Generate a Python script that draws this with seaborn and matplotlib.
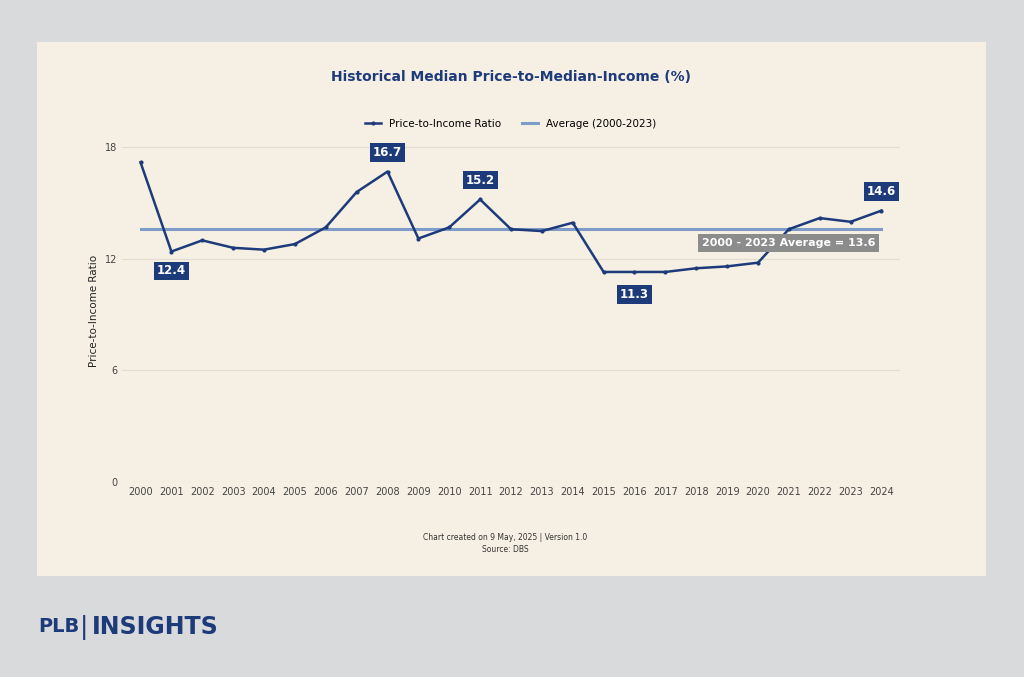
import matplotlib
matplotlib.use("Agg")
import matplotlib.pyplot as plt
import seaborn as sns
import pandas as pd
from matplotlib.patches import Rectangle

years = list(range(2000, 2025))
ratio = [17.2, 12.4, 13.0, 12.6, 12.5, 12.8, 13.7, 15.6, 16.7, 13.1, 13.7, 15.2,
         13.6, 13.5, 13.95, 11.3, 11.3, 11.3, 11.5, 11.6, 11.8, 13.6, 14.2, 14.0, 14.6]
average = 13.6
labeled = {2001: 12.4, 2008: 16.7, 2011: 15.2, 2016: 11.3, 2024: 14.6}
yticks = [0, 6, 12, 18]

navy = "#1d3a7a"
light = "#7f9cc8"
cream = "#f6f0e4"

df = pd.DataFrame({"year": years, "ratio": ratio})

fig = plt.figure(figsize=(10.24, 6.77), dpi=100)
fig.patch.set_facecolor("#d9dadc")
fig.patches.append(Rectangle((37/1024, 1-576/677), 949/1024, 534/677,
                             transform=fig.transFigure, facecolor=cream, edgecolor="none", zorder=-5))
ax = fig.add_axes([122/1024, 1-482/677, (900-122)/1024, (482-140)/677])
ax.set_facecolor(cream)
sns.lineplot(data=df, x="year", y="ratio", ax=ax, color=navy, lw=1.8,
             marker="o", markersize=3, markeredgewidth=0, label="Price-to-Income Ratio")
ax.plot([years[0], years[-1]], [average, average], color=light, lw=2.2, zorder=1,
        label="Average (2000-2023)")
ax.set_xlim(1999.4, 2024.6)
ax.set_ylim(0, 18.4)
ax.set_yticks(yticks)
ax.set_xticks(years)
ax.tick_params(length=0, labelsize=7, colors="#444444")
ax.grid(axis="y", color="#e3ddd0", lw=0.8)
for s in ax.spines.values():
    s.set_visible(False)
ax.set_xlabel("")
ax.set_ylabel("Price-to-Income Ratio", fontsize=7.5, color="#222222")

for yr, v in labeled.items():
    off = 14 if v > average else -14
    if yr == 2016:
        off = -16
    ax.annotate(f"{v}", (yr, v), xytext=(0, off), textcoords="offset points",
                ha="center", va="center", fontsize=8.5, fontweight="bold", color="white",
                bbox=dict(boxstyle="square,pad=0.25", fc=navy, ec="none"))
ax.text(2021, average - 0.75, "2000 - 2023 Average = 13.6", ha="center", va="center",
        fontsize=8, fontweight="bold", color="white",
        bbox=dict(boxstyle="square,pad=0.35", fc="#8c8c8c", ec="none"))

ax.legend(loc="upper center", bbox_to_anchor=(0.5, 1.09), ncol=2, frameon=False,
          fontsize=7.5, handlelength=1.5)
fig.text(511/1024, 1-77/677, "Historical Median Price-to-Median-Income (%)", ha="center",
         va="center", fontsize=10, fontweight="bold", color=navy)
fig.text(505/1024, 1-537/677, "Chart created on 9 May, 2025 | Version 1.0", ha="center",
         va="center", fontsize=5.5, color="#333333")
fig.text(505/1024, 1-549/677, "Source: DBS", ha="center", va="center", fontsize=5.5, color="#333333")
fig.text(38/1024, 1-627/677, "PLB", ha="left", va="center", fontsize=14, fontweight="bold", color=navy)
fig.text(80/1024, 1-627/677, "|", ha="left", va="center", fontsize=18, color=navy)
fig.text(92/1024, 1-627/677, "INSIGHTS", ha="left", va="center", fontsize=17, fontweight="bold", color=navy)
fig.savefig("out.png", dpi=100, facecolor=fig.get_facecolor())
